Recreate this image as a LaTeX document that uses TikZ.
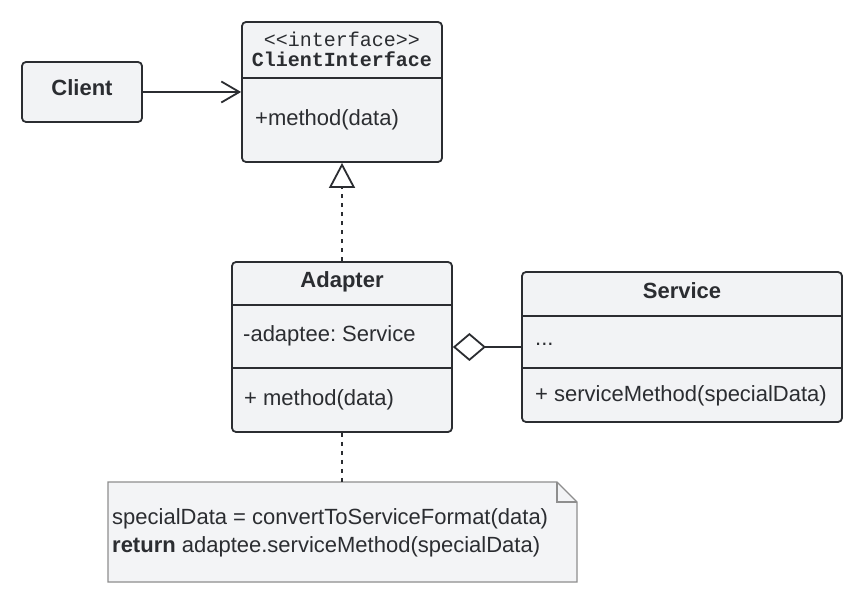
\documentclass[tikz,border=0pt]{standalone}
\usepackage{fontspec}
\setmainfont{Liberation Sans}
\setmonofont{Liberation Mono}
\usetikzlibrary{arrows.meta}
\definecolor{boxfill}{HTML}{F2F3F5}
\definecolor{boxline}{HTML}{2B2D31}
\definecolor{notefill}{HTML}{F3F4F6}
\definecolor{noteline}{HTML}{8E8E8E}
\frenchspacing
\begin{document}
\begin{tikzpicture}[x=1pt,y=-1pt,
  umlbox/.style={draw=boxline, fill=boxfill, line width=1.8pt, rounded corners=4pt, inner sep=0pt},
  divider/.style={draw=boxline, line width=1.8pt},
  lbl/.style={anchor=base west, inner sep=0pt, font=\fontsize{22}{26}\selectfont, text=boxline},
  ttl/.style={anchor=base, inner sep=0pt, font=\fontsize{22}{26}\selectfont\bfseries, text=boxline},
  mono/.style={anchor=base, inner sep=0pt, font=\fontsize{20}{24}\selectfont\ttfamily, text=boxline},
  conn/.style={draw=boxline, line width=1.8pt},
  dotconn/.style={draw=boxline, line width=1.8pt, dash pattern=on 4pt off 5pt}]
\fill[white] (0,0) rectangle (862,601);
\useasboundingbox (0,0) rectangle (862,601);

% Client
\node[umlbox, minimum width=120pt, minimum height=60pt] (client) at (82,92) {};
\node[ttl] (clientt) at (82,96) {Client};

% ClientInterface
\node[umlbox, minimum width=200pt, minimum height=140pt] (ci) at (342,92) {};
\draw[divider] (ci.west |- 0,78) -- (ci.east |- 0,78);
\node[mono] (cist) at (342,47) {<{}<interface>{}>};
\node[mono, font=\fontsize{20}{24}\selectfont\ttfamily\bfseries] (cin) at (342,67) {ClientInterface};
\node[lbl] (cim) at (255,126) {+method(data)};

% Adapter
\node[umlbox, minimum width=220pt, minimum height=170pt] (adapter) at (342,347) {};
\draw[divider] (adapter.west |- 0,305) -- (adapter.east |- 0,305);
\draw[divider] (adapter.west |- 0,368) -- (adapter.east |- 0,368);
\node[ttl] (adt) at (342,288) {Adapter};
\node[lbl] (ada) at (243,342) {-adaptee: Service};
\node[lbl] (adm) at (244,406) {+ method(data)};

% Service
\node[umlbox, minimum width=320pt, minimum height=150pt] (service) at (682,347) {};
\draw[divider] (service.west |- 0,316) -- (service.east |- 0,316);
\draw[divider] (service.west |- 0,368) -- (service.east |- 0,368);
\node[ttl] (svt) at (682,299) {Service};
\node[lbl] (svd) at (535,346) {...};
\node[lbl] (svm) at (535,402) {+ serviceMethod(specialData)};

% Note
\draw[draw=noteline, fill=notefill, line width=1.3pt, line join=miter]
  (108,482) -- (557,482) -- (577,502) -- (577,582) -- (108,582) -- cycle;
\draw[draw=noteline, line width=1.3pt] (557,482) -- (557,502) -- (577,502);
\coordinate (notetop) at (342,482);
\node[lbl] (n1) at (112,524) {specialData = convertToServiceFormat(data)};
\node[lbl] (n2) at (112,552) {\textbf{return} adaptee.serviceMethod(specialData)};

% Connectors
\draw[conn, -{Straight Barb[length=18pt, width=21pt, line width=1.8pt]}] (client.east) -- (ci.west |- client.east);
\draw[dotconn, -{Triangle[open, length=25pt, width=26pt, fill=white]}] (adapter.north) -- (ci.south);
\draw[conn, {Diamond[open, length=33pt, width=28pt, fill=white]}-] (adapter.east) -- (service.west);
\draw[dotconn] (adapter.south) -- (notetop);
\end{tikzpicture}
\end{document}
